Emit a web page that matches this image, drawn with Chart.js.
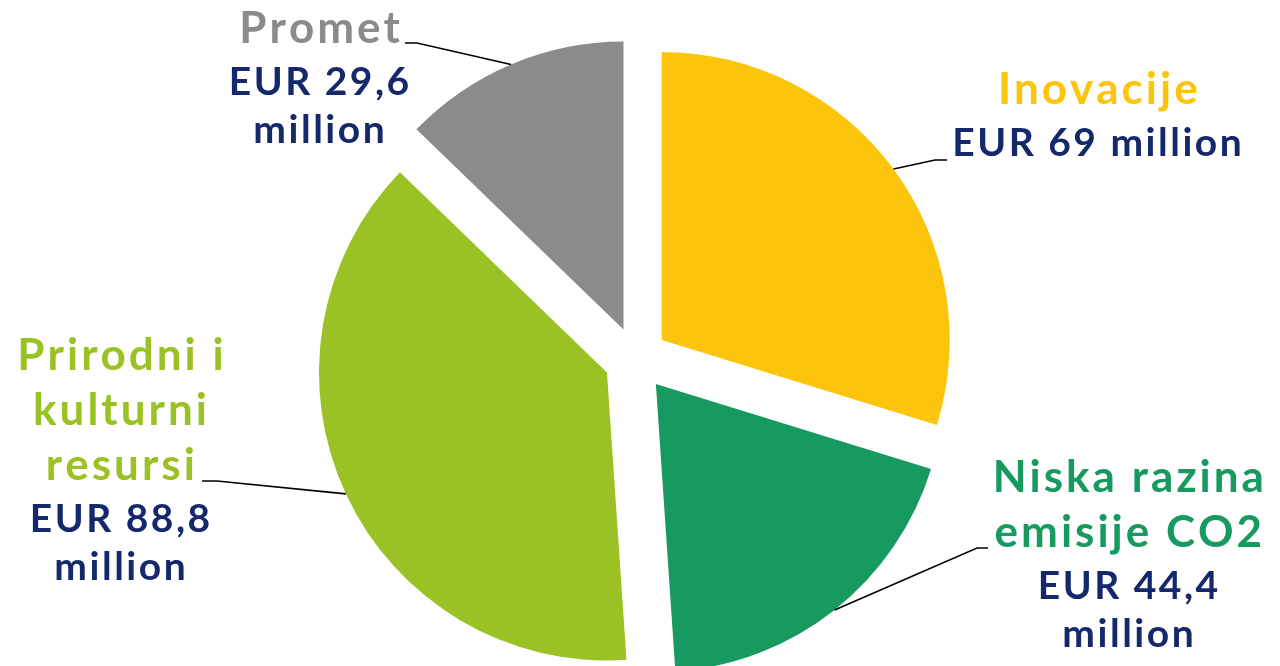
<!DOCTYPE html>
<html>
<head>
<meta charset="utf-8">
<script src="https://cdn.jsdelivr.net/npm/chart.js@4.4.1/dist/chart.umd.min.js"></script>
<style>
  html, body { margin: 0; padding: 0; background: #ffffff; }
  #wrap { width: 1280px; height: 666px; position: relative; }
</style>
</head>
<body>
<div id="wrap"><canvas id="chart"></canvas></div>
<script>
// Podaci
const kategorije = ['Inovacije', 'Niska razina emisije CO2', 'Prirodni i kulturni resursi', 'Promet'];
const vrijednosti = [69, 44.4, 88.8, 29.6];
const kategorijeRedovi = [['Inovacije'], ['Niska razina', 'emisije CO2'], ['Prirodni i', 'kulturni', 'resursi'], ['Promet']];
const iznosRedovi = [['EUR 69 million'], ['EUR 44,4', 'million'], ['EUR 88,8', 'million'], ['EUR 29,6', 'million']];

// Stil
const boje = ['#fcc50b', '#179a5f', '#9bc225', '#8b8b8d'];
const bojaIznosa = '#14286b';
const EXPLODE = 32;
const font = 'Lato, "Open Sans", sans-serif';

// Raspored oznaka (sredina teksta, prva linija, kraj linije, lom linije)
const rasporedOznaka = [
    { x: 1097, y: 104, kraj: [947, 160], lom: [935, 160] },
    { x: 1128, y: 492, kraj: [988, 548], lom: [977, 548] },
    { x: 120, y: 370, kraj: [202, 481], lom: [217, 481] },
    { x: 319, y: 43, kraj: [405, 43], lom: [417, 43] }
];

// Razdvojeni isječci
const explodePlugin = {
    id: 'explode',
    beforeDatasetDraw(chart, args) {
        const ctx = chart.ctx;
        args.meta.data.forEach(arc => {
            const mid = (arc.startAngle + arc.endAngle) / 2;
            ctx.save();
            ctx.translate(Math.cos(mid) * EXPLODE, Math.sin(mid) * EXPLODE);
            arc.draw(ctx);
            ctx.restore();
        });
        return false;
    }
};

function tekstSRazmakom(ctx, tekst, x, y, razmak) {
    // centrirani tekst s razmakom između slova
    const sirina = ctx.measureText(tekst).width + razmak * (tekst.length - 1);
    let cx = x - sirina / 2;
    for (const ch of tekst) {
        ctx.fillText(ch, cx, y);
        cx += ctx.measureText(ch).width + razmak;
    }
}

// Oznake s linijama
const oznakePlugin = {
    id: 'oznake',
    afterDatasetsDraw(chart) {
        const ctx = chart.ctx;
        const meta = chart.getDatasetMeta(0);
        meta.data.forEach((arc, i) => {
            const mid = (arc.startAngle + arc.endAngle) / 2;
            const r = arc.outerRadius + EXPLODE;
            const px = arc.x + Math.cos(mid) * r;
            const py = arc.y + Math.sin(mid) * r;
            const l = rasporedOznaka[i];

            ctx.save();
            ctx.strokeStyle = '#000000';
            ctx.lineWidth = 1.6;
            ctx.beginPath();
            ctx.moveTo(px, py);
            ctx.lineTo(l.lom[0], l.lom[1]);
            ctx.lineTo(l.kraj[0], l.kraj[1]);
            ctx.stroke();

            ctx.textAlign = 'left';
            ctx.textBaseline = 'alphabetic';
            let y = l.y;
            ctx.fillStyle = boje[i];
            ctx.font = 'bold 44px ' + font;
            kategorijeRedovi[i].forEach((red, j) => {
                if (j > 0) y += 55;
                tekstSRazmakom(ctx, red, l.x, y, 3);
            });
            ctx.fillStyle = bojaIznosa;
            ctx.font = 'bold 39px ' + font;
            iznosRedovi[i].forEach((red, j) => {
                y += (j === 0) ? 52 : 48;
                tekstSRazmakom(ctx, red, l.x, y, 2.5);
            });
            ctx.restore();
        });
    }
};

const ctx = document.getElementById('chart').getContext('2d');
new Chart(ctx, {
    type: 'pie',
    data: {
        labels: kategorije,
        datasets: [{
            data: vrijednosti,
            backgroundColor: boje,
            borderWidth: 0,
            radius: 288
        }]
    },
    options: {
        responsive: true,
        maintainAspectRatio: false,
        animation: false,
        layout: { padding: { top: 52, right: 8, left: 0, bottom: 0 } },
        plugins: {
            legend: { display: false },
            tooltip: { enabled: false }
        }
    },
    plugins: [explodePlugin, oznakePlugin]
});
</script>
</body>
</html>
